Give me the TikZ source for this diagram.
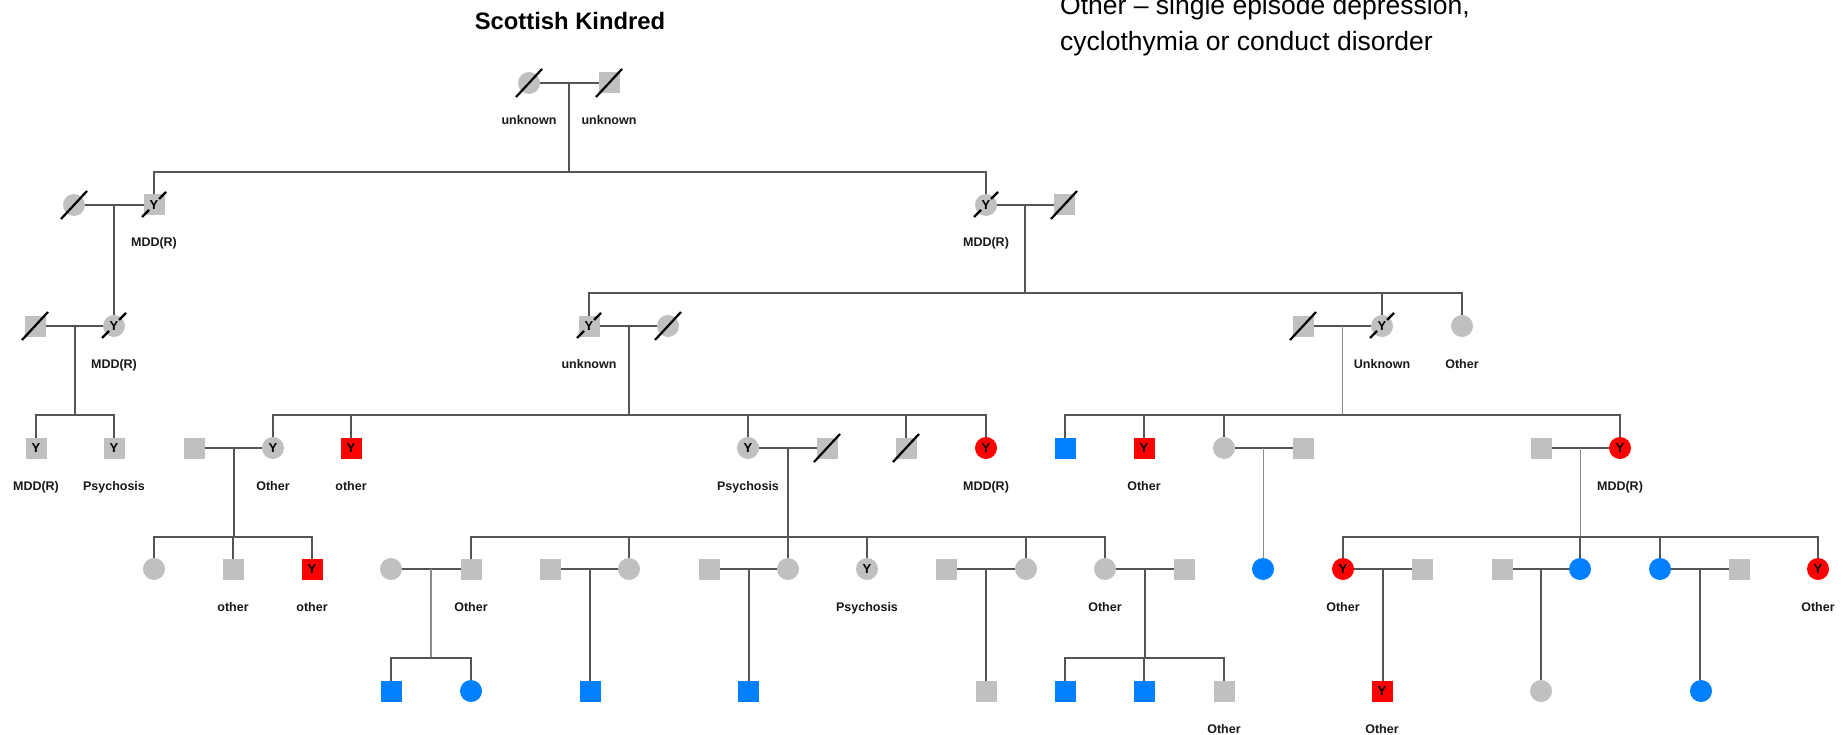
\documentclass[tikz,border=0pt]{standalone}
\usepackage{fontspec}
\setmainfont{Liberation Sans}
\usetikzlibrary{calc}
\definecolor{gy}{RGB}{192,192,192}
\definecolor{rd}{RGB}{255,0,0}
\definecolor{bl}{RGB}{0,128,255}
\definecolor{lc}{RGB}{85,85,85}
\definecolor{lcl}{RGB}{140,140,140}
\newcommand\mkdead[1]{\draw[sl] ([shift={(-13pt,-14pt)}]#1.center) -- ([shift={(13pt,14pt)}]#1.center);}
\newcommand\mkdeadY[1]{\draw[sl] ([shift={(-12pt,-12pt)}]#1.center) -- ([shift={(-5pt,-5pt)}]#1.center) ([shift={(5pt,6pt)}]#1.center) -- ([shift={(12pt,13pt)}]#1.center);}
\begin{document}
\begin{tikzpicture}[x=1pt,y=-1pt,
  ind/.style={inner sep=0pt, outer sep=0pt, font=\fontsize{13}{13}\selectfont\bfseries},
  sq/.style={ind, rectangle, minimum size=21pt, fill=#1},
  sq/.default=gy,
  ci/.style={ind, circle, minimum size=22pt, fill=#1},
  ci/.default=gy,
  ln/.style={draw=lc, line width=2pt},
  lnl/.style={draw=lcl, line width=1.8pt},
  sl/.style={draw=black, line width=2.2pt},
  lab/.style={anchor=base, inner sep=0pt, font=\fontsize{12.5}{13}\selectfont\bfseries, text=black!90},
]
\fill[white] (0,0) rectangle (1843,735);
\useasboundingbox (0,0) rectangle (1843,735);

% titles
\node[anchor=base, inner sep=0pt, font=\fontsize{23.8}{28}\selectfont\bfseries] (title) at (570,30) {Scottish Kindred};
\node[anchor=base west, inner sep=0pt, font=\fontsize{26.5}{30}\selectfont] (leg1) at (1060,15) {Other – single episode depression,};
\node[anchor=base west, inner sep=0pt, font=\fontsize{26.5}{30}\selectfont] (leg2) at (1060,50.5) {cyclothymia or conduct disorder};

% sibship levels
\coordinate (L1) at (0,172);
\coordinate (L2) at (0,293);
\coordinate (L3) at (0,415);
\coordinate (L4) at (0,537);
\coordinate (L5) at (0,658);

% generation 1
\node[ci] (g1a) at (529,83) {};
\node[sq] (g1b) at (609,83) {};
% generation 2
\node[ci] (g2a) at (74,205) {};
\node[sq] (g2b) at (154,205) {Y};
\node[ci] (g2c) at (986,205) {Y};
\node[sq] (g2d) at (1064,205) {};
% generation 3
\node[sq] (g3a) at (35,326) {};
\node[ci] (g3b) at (114,326) {Y};
\node[sq] (g3c) at (589,326) {Y};
\node[ci] (g3d) at (668,326) {};
\node[sq] (g3e) at (1303,326) {};
\node[ci] (g3f) at (1382,326) {Y};
\node[ci] (g3g) at (1462,326) {};
% generation 4
\node[sq] (g4a) at (36,448) {Y};
\node[sq] (g4b) at (114,448) {Y};
\node[sq] (g4c) at (194,448) {};
\node[ci] (g4d) at (273,448) {Y};
\node[sq=rd] (g4e) at (351,448) {Y};
\node[ci] (g4f) at (748,448) {Y};
\node[sq] (g4g) at (827,448) {};
\node[sq] (g4h) at (906,448) {};
\node[ci=rd] (g4i) at (986,448) {Y};
\node[sq=bl] (g4j) at (1065,448) {};
\node[sq=rd] (g4k) at (1144,448) {Y};
\node[ci] (g4l) at (1224,448) {};
\node[sq] (g4m) at (1303,448) {};
\node[sq] (g4n) at (1541,448) {};
\node[ci=rd] (g4o) at (1620,448) {Y};
% generation 5
\node[ci] (g5a) at (154,569) {};
\node[sq] (g5b) at (233,569) {};
\node[sq=rd] (g5c) at (312,569) {Y};
\node[ci] (g5d) at (391,569) {};
\node[sq] (g5e) at (471,569) {};
\node[sq] (g5f) at (550,569) {};
\node[ci] (g5g) at (629,569) {};
\node[sq] (g5h) at (709,569) {};
\node[ci] (g5i) at (788,569) {};
\node[ci] (g5j) at (867,569) {Y};
\node[sq] (g5k) at (946,569) {};
\node[ci] (g5l) at (1026,569) {};
\node[ci] (g5m) at (1105,569) {};
\node[sq] (g5n) at (1184,569) {};
\node[ci=bl] (g5o) at (1263,569) {};
\node[ci=rd] (g5p) at (1343,569) {Y};
\node[sq] (g5q) at (1422,569) {};
\node[sq] (g5r) at (1502,569) {};
\node[ci=bl] (g5s) at (1580,569) {};
\node[ci=bl] (g5t) at (1660,569) {};
\node[sq] (g5u) at (1739,569) {};
\node[ci=rd] (g5v) at (1818,569) {Y};
% generation 6
\node[sq=bl] (g6a) at (391,691) {};
\node[ci=bl] (g6b) at (471,691) {};
\node[sq=bl] (g6c) at (590,691) {};
\node[sq=bl] (g6d) at (748,691) {};
\node[sq] (g6e) at (986,691) {};
\node[sq=bl] (g6f) at (1065,691) {};
\node[sq=bl] (g6g) at (1144,691) {};
\node[sq] (g6h) at (1224,691) {};
\node[sq=rd] (g6i) at (1382,691) {Y};
\node[ci] (g6j) at (1541,691) {};
\node[ci=bl] (g6k) at (1701,691) {};

% deceased marks
\mkdead{g1a} \mkdead{g1b}
\mkdead{g2a} \mkdeadY{g2b} \mkdeadY{g2c} \mkdead{g2d}
\mkdead{g3a} \mkdeadY{g3b} \mkdeadY{g3c} \mkdead{g3d} \mkdead{g3e} \mkdeadY{g3f}
\mkdead{g4g} \mkdead{g4h}

% couple lines
\foreach \a/\b in {g1a/g1b, g2a/g2b, g2c/g2d, g3a/g3b, g3c/g3d, g3e/g3f,
  g4c/g4d, g4f/g4g, g4l/g4m, g4n/g4o, g5d/g5e, g5f/g5g, g5h/g5i, g5k/g5l,
  g5m/g5n, g5p/g5q, g5r/g5s, g5t/g5u}
  {\draw[ln] (\a) -- (\b);}

% couple midpoints
\coordinate (m1) at ($(g1a)!.5!(g1b)$);
\coordinate (m2) at ($(g2a)!.5!(g2b)$);
\coordinate (m3) at ($(g2c)!.5!(g2d)$);
\coordinate (m4) at ($(g3a)!.5!(g3b)$);
\coordinate (m5) at ($(g3c)!.5!(g3d)$);
\coordinate (m6) at ($(g3e)!.5!(g3f)$);
\coordinate (m7) at ($(g4c)!.5!(g4d)$);
\coordinate (m8) at ($(g4f)!.5!(g4g)$);
\coordinate (m9) at ($(g4l)!.5!(g4m)$);
\coordinate (m10) at ($(g4n)!.5!(g4o)$);
\coordinate (m11) at ($(g5d)!.5!(g5e)$);
\coordinate (m12) at ($(g5f)!.5!(g5g)$);
\coordinate (m13) at ($(g5h)!.5!(g5i)$);
\coordinate (m14) at ($(g5k)!.5!(g5l)$);
\coordinate (m15) at ($(g5m)!.5!(g5n)$);
\coordinate (m16) at ($(g5p)!.5!(g5q)$);
\coordinate (m17) at ($(g5r)!.5!(g5s)$);
\coordinate (m18) at ($(g5t)!.5!(g5u)$);

% sibships
% 1
\draw[ln] (m1) -- (m1|-L1);
\draw[ln] (g2b.north) -- (g2b.north|-L1) -- (g2c.north|-L1) -- (g2c.north);
% 2
\draw[ln] (m2) -- (m2|-g3b.north);
% 3
\draw[ln] (m3) -- (m3|-L2);
\draw[ln] (g3c.north) -- (g3c.north|-L2) -- (g3g.north|-L2) -- (g3g.north);
\draw[ln] (g3f.north) -- (g3f.north|-L2);
% 4
\draw[ln] (m4) -- (m4|-L3);
\draw[ln] (g4a.north) -- (g4a.north|-L3) -- (g4b.north|-L3) -- (g4b.north);
% 5
\draw[ln] (m5) -- (m5|-L3);
\draw[ln] (g4d.north) -- (g4d.north|-L3) -- (g4i.north|-L3) -- (g4i.north);
\foreach \c in {g4e,g4f,g4h} {\draw[ln] (\c.north) -- (\c.north|-L3);}
% 6
\draw[lnl] (m6) -- (m6|-L3);
\draw[ln] (g4j.north) -- (g4j.north|-L3) -- (g4o.north|-L3) -- (g4o.north);
\foreach \c in {g4k,g4l} {\draw[ln] (\c.north) -- (\c.north|-L3);}
% 7
\draw[ln] (m7) -- (m7|-L4);
\draw[ln] (g5a.north) -- (g5a.north|-L4) -- (g5c.north|-L4) -- (g5c.north);
\draw[ln] (g5b.north) -- (g5b.north|-L4);
% 8
\draw[ln] (m8) -- (m8|-L4);
\draw[ln] (g5e.north) -- (g5e.north|-L4) -- (g5m.north|-L4) -- (g5m.north);
\foreach \c in {g5g,g5i,g5j,g5l} {\draw[ln] (\c.north) -- (\c.north|-L4);}
% 9
\draw[lnl] (m9) -- (m9|-g5o.north);
% 10
\draw[lnl] (m10) -- (m10|-L4);
\draw[ln] (g5p.north) -- (g5p.north|-L4) -- (g5v.north|-L4) -- (g5v.north);
\foreach \c in {g5s,g5t} {\draw[ln] (\c.north) -- (\c.north|-L4);}
% 11
\draw[lnl] (m11) -- (m11|-L5);
\draw[ln] (g6a.north) -- (g6a.north|-L5) -- (g6b.north|-L5) -- (g6b.north);
% 12-14, 16-18
\draw[ln] (m12) -- (m12|-g6c.north);
\draw[ln] (m13) -- (m13|-g6d.north);
\draw[ln] (m14) -- (m14|-g6e.north);
\draw[ln] (m16) -- (m16|-g6i.north);
\draw[ln] (m17) -- (m17|-g6j.north);
\draw[ln] (m18) -- (m18|-g6k.north);
% 15
\draw[ln] (m15) -- (m15|-L5);
\draw[ln] (g6f.north) -- (g6f.north|-L5) -- (g6h.north|-L5) -- (g6h.north);
\draw[ln] (g6g.north) -- (g6g.north|-L5);

% labels
\foreach \n/\t in {g1a/unknown, g1b/unknown, g2b/MDD(R), g2c/MDD(R),
  g3b/MDD(R), g3c/unknown, g3f/Unknown, g3g/Other,
  g4a/MDD(R), g4b/Psychosis, g4d/Other, g4e/other, g4f/Psychosis, g4i/MDD(R), g4k/Other, g4o/MDD(R),
  g5b/other, g5c/other, g5e/Other, g5j/Psychosis, g5m/Other, g5p/Other, g5v/Other,
  g6h/Other, g6i/Other}
  {\node[lab] (t-\n) at ([yshift=-42pt]\n.center) {\t};}
\end{tikzpicture}
\end{document}
